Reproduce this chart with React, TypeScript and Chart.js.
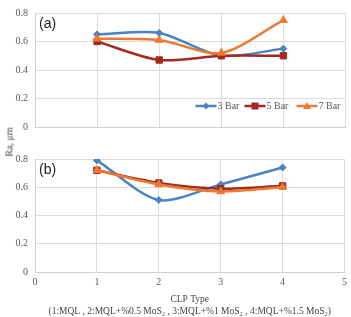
import React, { useEffect, useRef } from "react";
import { Chart, registerables } from "chart.js";

Chart.register(...registerables);

const xValues = [1, 2, 3, 4];
const seriesNames = ["3 Bar", "5 Bar", "7 Bar"];
const aBar3 = [0.65, 0.66, 0.5, 0.55];
const aBar5 = [0.6, 0.47, 0.5, 0.5];
const aBar7 = [0.62, 0.61, 0.52, 0.75];
const bBar3 = [0.79, 0.51, 0.62, 0.74];
const bBar5 = [0.72, 0.63, 0.59, 0.61];
const bBar7 = [0.72, 0.62, 0.57, 0.6];
const xTitle = ["CLP Type", "(1:MQL , 2:MQL+%0.5 MoS\u2082 , 3:MQL+%1 MoS\u2082 , 4:MQL+%1.5 MoS\u2082)"];
const yTitle = "Ra, \u03bcm";

const colors = ["#4a83c2", "#a32a24", "#ec7a30"];
const markers = ["rectRot", "rect", "triangle"];
const radii = [3.5, 4.5, 4.5];

const SERIF = "'Liberation Serif', 'Times New Roman', serif";
const SANS = "'Liberation Sans', Arial, sans-serif";

function makeDatasets(vals: number[][]) {
  return vals.map((v, i) => ({
    label: seriesNames[i],
    data: v.map((y, j) => ({ x: xValues[j], y })),
    borderColor: colors[i],
    backgroundColor: colors[i],
    borderWidth: 2.5,
    pointStyle: markers[i] as any,
    pointRadius: radii[i],
    pointBorderWidth: 1,
    tension: 0.28,
    fill: false,
    order: 3 - i,
  }));
}

const panelLabel = (txt: string) => ({
  id: "panel" + txt,
  afterDraw(chart: any) {
    const ctx = chart.ctx;
    const a = chart.chartArea;
    ctx.save();
    ctx.font = `14px ${SANS}`;
    ctx.fillStyle = "#222";
    ctx.textBaseline = "middle";
    ctx.fillText(txt, a.left + 4, a.top + 11);
    ctx.restore();
  },
});

const legendPlugin = {
  id: "inlegend",
  afterDraw(chart: any) {
    const ctx = chart.ctx;
    const a = chart.chartArea;
    const starts = [a.right - 150, a.right - 101, a.right - 49];
    const y = a.bottom - 21;
    ctx.save();
    seriesNames.forEach((name, i) => {
      const x = starts[i];
      ctx.strokeStyle = colors[i];
      ctx.lineWidth = 2.5;
      ctx.beginPath();
      ctx.moveTo(x, y);
      ctx.lineTo(x + 21, y);
      ctx.stroke();
      ctx.fillStyle = colors[i];
      ctx.beginPath();
      const cx = x + 10.5;
      if (i === 0) {
        ctx.moveTo(cx, y - 3.5);
        ctx.lineTo(cx + 3.5, y);
        ctx.lineTo(cx, y + 3.5);
        ctx.lineTo(cx - 3.5, y);
      } else if (i === 1) {
        ctx.rect(cx - 3.5, y - 3.5, 7, 7);
      } else {
        ctx.moveTo(cx, y - 4);
        ctx.lineTo(cx + 4, y + 3);
        ctx.lineTo(cx - 4, y + 3);
      }
      ctx.closePath();
      ctx.fill();
      ctx.fillStyle = "#595959";
      ctx.font = `10px ${SERIF}`;
      ctx.textBaseline = "middle";
      ctx.fillText(name, x + 22, y + 0.5);
    });
    ctx.restore();
  },
};

function baseOptions(isBottom: boolean): any {
  return {
    responsive: false,
    animation: false,
    maintainAspectRatio: false,
    layout: { padding: isBottom ? { top: 19, right: 4, left: 0, bottom: 0 } : { top: 8, right: 4, left: 0, bottom: 0 } },
    plugins: { legend: { display: false }, tooltip: { enabled: false } },
    scales: {
      x: {
        type: "linear",
        min: 0,
        max: 5,
        ticks: {
          display: isBottom,
          stepSize: 1,
          color: "#595959",
          font: { family: SERIF, size: 10 },
          padding: 4,
        },
        grid: { color: "#dcdcdc", drawTicks: false, lineWidth: 1 },
        border: { color: "#d0d0d0" },
        title: isBottom
          ? {
              display: true,
              text: xTitle,
              color: "#444",
              font: { family: SERIF, size: 9.5 },
              padding: { top: 6, bottom: 0 },
            }
          : { display: false },
        afterFit: (s: any) => {
          s.height = isBottom ? 45 : 4;
        },
      },
      y: {
        min: 0,
        max: 0.8,
        ticks: {
          stepSize: 0.2,
          color: "#595959",
          font: { family: SERIF, size: 10 },
          padding: 7,
          callback: (v: any) => String(Math.round(v * 10) / 10),
        },
        grid: { color: "#dcdcdc", drawTicks: false, lineWidth: 1 },
        border: { color: "#d0d0d0" },
        afterFit: (s: any) => {
          s.width = 35;
        },
      },
    },
  };
}

function ChartPanel({ vals, isBottom, label, top, height }: any) {
  const ref = useRef<HTMLCanvasElement>(null);
  useEffect(() => {
    if (!ref.current) return;
    const plugins: any[] = [panelLabel(label)];
    if (!isBottom) plugins.push(legendPlugin);
    const chart = new Chart(ref.current, {
      type: "line",
      data: { datasets: makeDatasets(vals) as any },
      options: baseOptions(isBottom),
      plugins,
    });
    return () => chart.destroy();
  }, []);
  return (
    <canvas
      ref={ref}
      width={351}
      height={height}
      style={{ position: "absolute", left: 0, top, width: 351, height }}
    />
  );
}

export default function App() {
  return (
    <div style={{ position: "fixed", left: 0, top: 0, width: 351, height: 317, background: "#fff", overflow: "hidden" }}>
      <ChartPanel vals={[aBar3, aBar5, aBar7]} isBottom={false} label="(a)" top={0} height={140} />
      <ChartPanel vals={[bBar3, bBar5, bBar7]} isBottom={true} label="(b)" top={140} height={177} />
      <div
        style={{
          position: "absolute",
          left: 9,
          top: 142,
          transform: "translate(-50%, -50%) rotate(-90deg)",
          fontFamily: SERIF,
          fontSize: 10,
          color: "#444",
          whiteSpace: "nowrap",
        }}
      >
        {yTitle}
      </div>
    </div>
  );
}
